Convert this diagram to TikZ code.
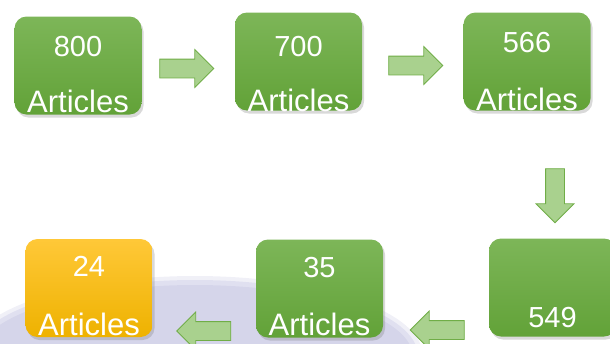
\documentclass[tikz,border=0pt]{standalone}
\usepackage{fontspec}
\setmainfont{Liberation Sans}
\usetikzlibrary{shapes.arrows,shadows}
\definecolor{boxtop}{RGB}{125,182,88}
\definecolor{boxbot}{RGB}{98,162,56}
\definecolor{goldtop}{RGB}{255,200,56}
\definecolor{goldbot}{RGB}{238,178,0}
\definecolor{arrowfill}{RGB}{169,209,142}
\definecolor{arrowline}{RGB}{112,173,71}
\definecolor{haze}{RGB}{205,205,230}
\begin{document}
\begin{tikzpicture}[x=1pt,y=-1pt,
	stage/.style={rounded corners=12pt, minimum width=127pt, minimum height=98pt, inner sep=0pt,
		top color=boxtop, bottom color=boxbot, draw=none,
		drop shadow={shadow xshift=2pt, shadow yshift=-3pt, opacity=.3}},
	final/.style={stage, top color=goldtop, bottom color=goldbot},
	num/.style={text=white, font=\fontsize{29}{29}\selectfont, anchor=base, inner sep=0pt},
	word/.style={text=white, font=\fontsize{31}{31}\selectfont, anchor=base, inner sep=0pt},
	flow/.style={single arrow, fill=arrowfill, draw=arrowline, line width=.8pt,
		inner xsep=0pt, inner ysep=9pt, minimum height=54pt, single arrow head extend=9.5pt}]
	\useasboundingbox (0,0) rectangle (610,343);
	\begin{scope}
		\clip (0,0) rectangle (610,343);
		\fill[haze, opacity=.3] (195,356) ellipse (228pt and 80pt);
		\fill[haze, opacity=.45] (195,356) ellipse (223pt and 76pt);
		\fill[haze, opacity=.6] (195,357) ellipse (218pt and 72pt);

		\node[stage] (b1) at (78,65.5) {};
		\node[stage] (b2) at (298.5,61.5) {};
		\node[stage] (b3) at (527,61.5) {};
		\node[stage] (b4) at (552.5,287.5) {};
		\node[stage] (b5) at (319.5,288.5) {};
		\node[final] (b6) at (89,288) {};

		\node[num] (n1) at ([yshift=-40pt]b1.north) {800};
		\node[word] (w1) at ([yshift=2pt]b1.south) {Articles};
		\node[num] (n2) at ([yshift=-44pt]b2.north) {700};
		\node[word] (w2) at ([yshift=-1pt]b2.south) {Articles};
		\node[num] (n3) at ([yshift=-40pt]b3.north) {566};
		\node[word] (w3) at ([yshift=0pt]b3.south) {Articles};
		\node[num] (n4) at ([yshift=9pt]b4.south) {549};
		\node[num] (n5) at ([yshift=-38pt]b5.north) {35};
		\node[word] (w5) at ([yshift=2pt]b5.south) {Articles};
		\node[num] (n6) at ([yshift=-38pt]b6.north) {24};
		\node[word] (w6) at ([yshift=2pt]b6.south) {Articles};

		\node[flow] (a1) at (182,68.5) {};
		\node[flow] (a2) at (411,65.5) {};
		\node[flow, rotate=-90] (a3) at (555,191) {};
		\node[flow, shape border rotate=180] (a4) at (442,330) {};
		\node[flow, shape border rotate=180] (a5) at (208.5,331) {};
	\end{scope}
\end{tikzpicture}
\end{document}
